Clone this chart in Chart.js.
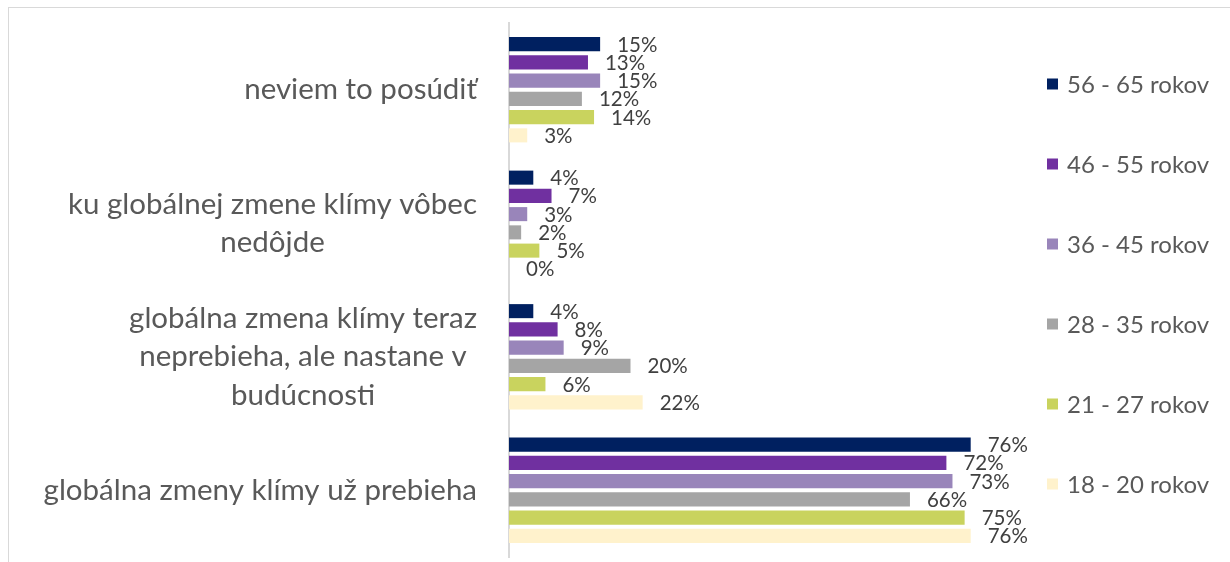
<!DOCTYPE html>
<html>
<head>
<meta charset="utf-8">
<script src="https://cdn.jsdelivr.net/npm/chart.js@4.4.1/dist/chart.umd.min.js"></script>
<style>
  html, body { margin: 0; padding: 0; background: #fff; overflow: hidden; }
  #wrap { position: relative; width: 1230px; height: 562px; }
  #frame { position: absolute; left: 8px; top: 7px; width: 1300px; height: 600px; border: 1px solid #d9d9d9; }
  canvas { position: absolute; left: 0; top: 0; }
</style>
</head>
<body>
<div id="wrap">
  <div id="frame"></div>
  <canvas id="chart" width="1230" height="562"></canvas>
</div>
<script>
const categories = [
    'neviem to posúdiť',
    ['ku globálnej zmene klímy vôbec', 'nedôjde'],
    ['globálna zmena klímy teraz', 'neprebieha, ale nastane v', 'budúcnosti'],
    'globálna zmeny klímy už prebieha'
];
const seriesNames = ['56 - 65 rokov', '46 - 55 rokov', '36 - 45 rokov', '28 - 35 rokov', '21 - 27 rokov', '18 - 20 rokov'];
const age56_65 = [15, 4, 4, 76];
const age46_55 = [13, 7, 8, 72];
const age36_45 = [15, 3, 9, 73];
const age28_35 = [12, 2, 20, 66];
const age21_27 = [14, 5, 6, 75];
const age18_20 = [3, 0, 22, 76];
const colors = ['#002060', '#7030A0', '#9985BA', '#A5A5A5', '#C9D35E', '#FFF2CC'];

const allSeries = [age56_65, age46_55, age36_45, age28_35, age21_27, age18_20];

// value labels at the end of each bar
const valueLabels = {
    id: 'valueLabels',
    afterDatasetsDraw(chart) {
        const ctx = chart.ctx;
        ctx.save();
        ctx.font = '20.5px Lato';
        ctx.fillStyle = '#404040';
        ctx.textAlign = 'left';
        ctx.textBaseline = 'middle';
        chart.data.datasets.forEach((ds, i) => {
            chart.getDatasetMeta(i).data.forEach((bar, j) => {
                ctx.fillText(ds.data[j] + '%', bar.x + 17, bar.y + 1);
            });
        });
        ctx.restore();
    }
};

// category labels, lines centered on the widest line, right edge near the axis
const categoryLabels = {
    id: 'categoryLabels',
    afterDraw(chart) {
        const ctx = chart.ctx;
        const scale = chart.scales.y;
        const lineH = 38.5;
        ctx.save();
        ctx.font = '29.5px Lato';
        ctx.fillStyle = '#595959';
        ctx.textAlign = 'center';
        ctx.textBaseline = 'middle';
        chart.data.labels.forEach((lab, i) => {
            const lines = Array.isArray(lab) ? lab : [lab];
            const maxW = Math.max(...lines.map(l => ctx.measureText(l).width));
            const cx = scale.right - 32 - maxW / 2;
            const y0 = scale.getPixelForTick(i) - (lines.length - 1) * lineH / 2;
            lines.forEach((l, k) => ctx.fillText(l, cx, y0 + k * lineH));
        });
        ctx.restore();
    }
};

// legend on the right
const sideLegend = {
    id: 'sideLegend',
    afterDraw(chart) {
        const ctx = chart.ctx;
        const x = chart.chartArea.right + 52;
        ctx.save();
        ctx.font = '24px Lato';
        ctx.textBaseline = 'middle';
        ctx.textAlign = 'left';
        chart.data.datasets.forEach((ds, i) => {
            const y = 84 + i * 80;
            ctx.fillStyle = ds.backgroundColor;
            ctx.fillRect(x, y - 5.5, 11, 11);
            ctx.fillStyle = '#595959';
            ctx.fillText(ds.label, x + 20, y + 1);
        });
        ctx.restore();
    }
};

const ctx = document.getElementById('chart').getContext('2d');
new Chart(ctx, {
    type: 'bar',
    data: {
        labels: categories,
        datasets: allSeries.map((d, i) => ({
            label: seriesNames[i],
            data: d,
            backgroundColor: colors[i],
            categoryPercentage: 0.82,
            barPercentage: 0.77
        }))
    },
    options: {
        indexAxis: 'y',
        responsive: false,
        animation: false,
        layout: { padding: { top: 23, bottom: 5, left: 0, right: 235 } },
        plugins: {
            legend: { display: false },
            tooltip: { enabled: false }
        },
        scales: {
            x: {
                display: false,
                min: 0,
                max: 80
            },
            y: {
                grid: { display: false, drawTicks: false },
                border: { color: '#d9d9d9', width: 2 },
                ticks: { display: false },
                afterFit(scale) { scale.width = 509; }
            }
        }
    },
    plugins: [valueLabels, categoryLabels, sideLegend]
});
</script>
</body>
</html>
